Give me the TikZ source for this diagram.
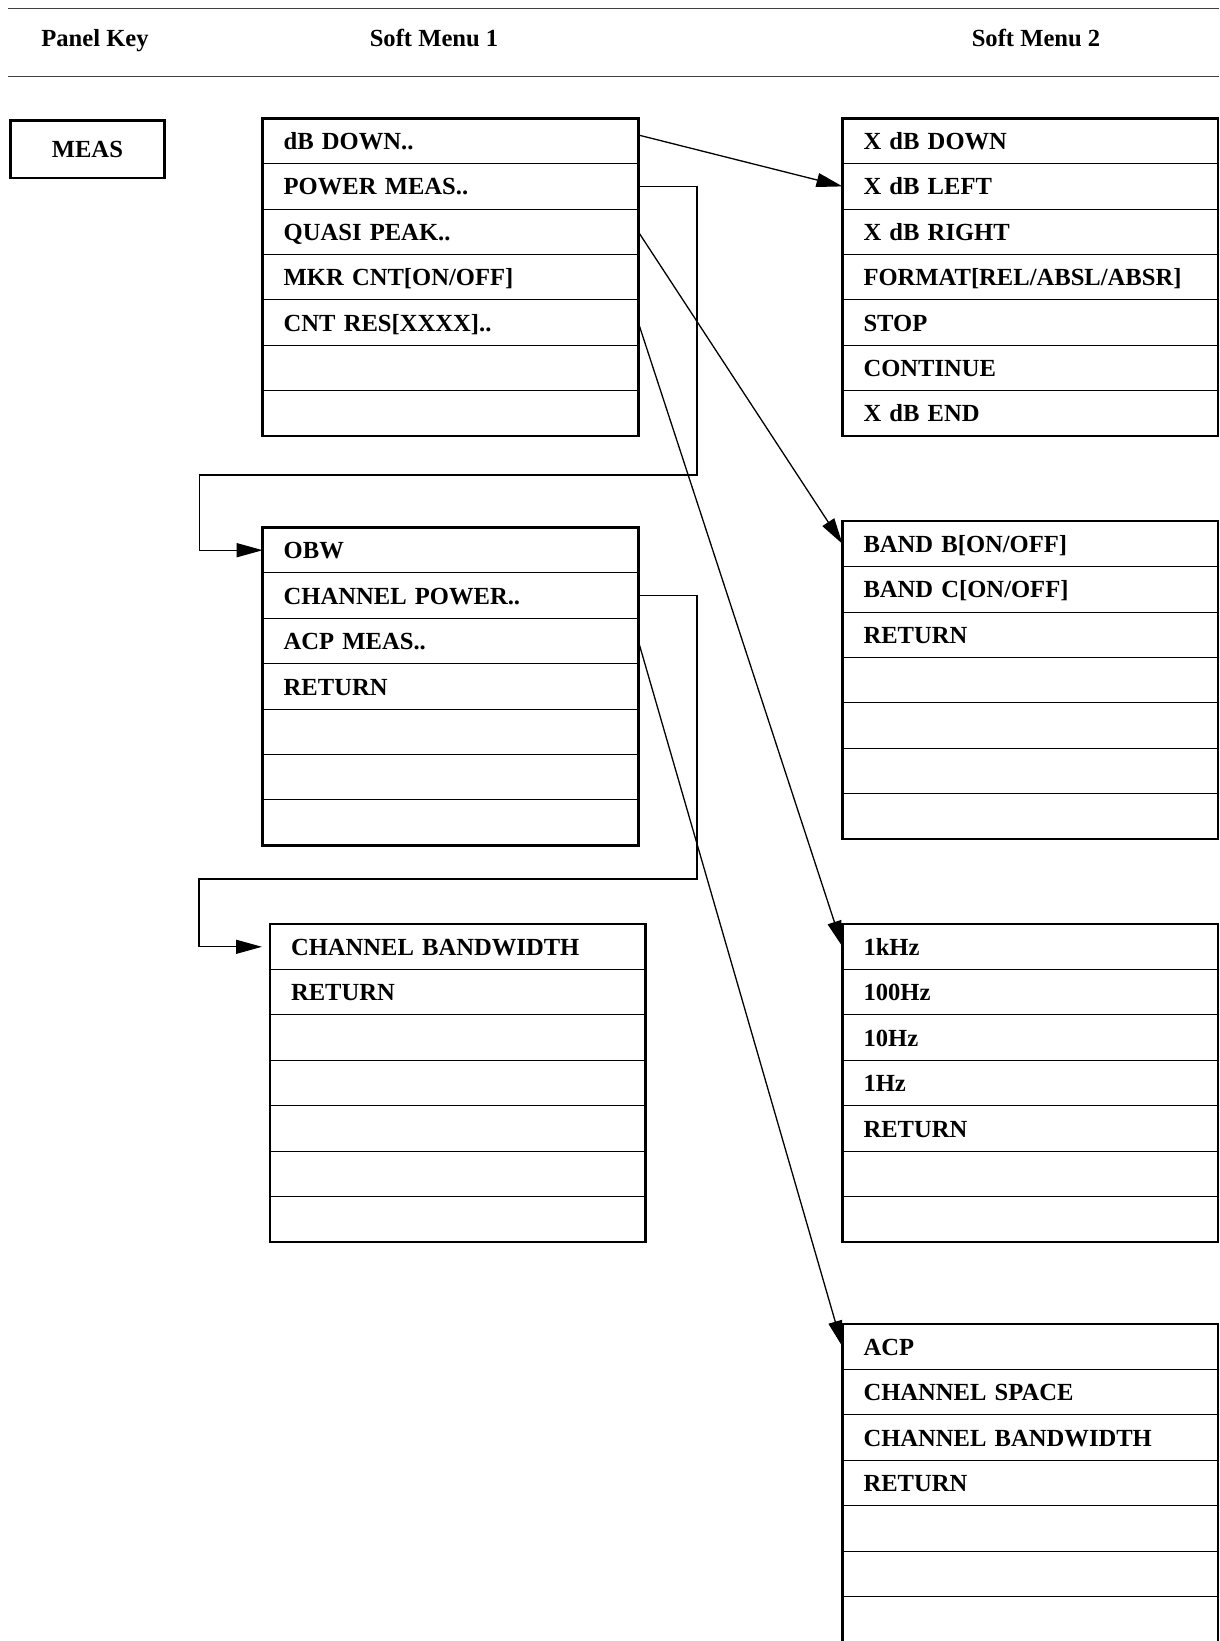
\documentclass[tikz,border=0pt]{standalone}
\usepackage{fontspec}
\setmainfont{Liberation Serif}
\usetikzlibrary{arrows.meta,positioning}

\begin{document}
\begin{tikzpicture}[x=0.5pt, y=-0.5pt, >={Triangle[length=13pt,width=7pt]}]
\tikzstyle{every node}=[font=\fontsize{12.3}{14}\selectfont\bfseries];
\tikzstyle{row}=[draw, line width=0.5pt, outer sep=0pt, minimum height=22.7pt, text width=166.8pt, inner xsep=10.5pt, inner ysep=0pt, align=left, text height=8.6pt, text depth=0pt];
\tikzstyle{frame}=[draw, line width=1.25pt];
\tikzstyle{link}=[->, line width=0.65pt];
\useasboundingbox (0,0) rectangle (1219,1641);

% header
\draw[line width=0.5pt, black!75] (8.4,8.4) -- (1219,8.4);
\draw[line width=0.5pt, black!75] (8.4,76.4) -- (1219,76.4);
\path (95,47) node (hdkey)[anchor=base] {Panel Key}
(434,47) node (hdsoft1)[anchor=base] {Soft Menu 1}
(1036,47) node (hdsoft2)[anchor=base] {Soft Menu 2};

% panel key
\path (87.4,149.2) node (meas)[draw, line width=1.25pt, minimum width=76.9pt, minimum height=28.8pt] {MEAS};

% soft menu 1
\path (262.7,118.3) node (a1)[row, anchor=north west] {dB DOWN..};
\node (a2)[row, below=0pt of a1] {POWER MEAS..};
\node (a3)[row, below=0pt of a2] {QUASI PEAK..};
\node (a4)[row, below=0pt of a3] {MKR CNT[ON/OFF]};
\node (a5)[row, below=0pt of a4] {CNT RES[XXXX]..};
\node (a6)[row, below=0pt of a5] {};
\node (a7)[row, below=0pt of a6] {};
\draw[frame] (a1.north west) rectangle (a7.south east);

\path (262.7,527.5) node (c1)[row, anchor=north west] {OBW};
\node (c2)[row, below=0pt of c1] {CHANNEL POWER..};
\node (c3)[row, below=0pt of c2] {ACP MEAS..};
\node (c4)[row, below=0pt of c3] {RETURN};
\node (c5)[row, below=0pt of c4] {};
\node (c6)[row, below=0pt of c5] {};
\node (c7)[row, below=0pt of c6] {};
\draw[frame] (c1.north west) rectangle (c7.south east);

\path (270,924.1) node (d1)[row, anchor=north west] {CHANNEL BANDWIDTH};
\node (d2)[row, below=0pt of d1] {RETURN};
\node (d3)[row, below=0pt of d2] {};
\node (d4)[row, below=0pt of d3] {};
\node (d5)[row, below=0pt of d4] {};
\node (d6)[row, below=0pt of d5] {};
\node (d7)[row, below=0pt of d6] {};
\draw[frame] (d1.north west) rectangle (d7.south east);

% soft menu 2
\path (842.5,118.3) node (b1)[row, anchor=north west] {X dB DOWN};
\node (b2)[row, below=0pt of b1] {X dB LEFT};
\node (b3)[row, below=0pt of b2] {X dB RIGHT};
\node (b4)[row, below=0pt of b3] {FORMAT[REL/ABSL/ABSR]};
\node (b5)[row, below=0pt of b4] {STOP};
\node (b6)[row, below=0pt of b5] {CONTINUE};
\node (b7)[row, below=0pt of b6] {X dB END};
\draw[frame] (b1.north west) rectangle (b7.south east);

\path (842.5,521.2) node (e1)[row, anchor=north west] {BAND B[ON/OFF]};
\node (e2)[row, below=0pt of e1] {BAND C[ON/OFF]};
\node (e3)[row, below=0pt of e2] {RETURN};
\node (e4)[row, below=0pt of e3] {};
\node (e5)[row, below=0pt of e4] {};
\node (e6)[row, below=0pt of e5] {};
\node (e7)[row, below=0pt of e6] {};
\draw[frame] (e1.north west) rectangle (e7.south east);

\path (842.5,924.1) node (f1)[row, anchor=north west] {1kHz};
\node (f2)[row, below=0pt of f1] {100Hz};
\node (f3)[row, below=0pt of f2] {10Hz};
\node (f4)[row, below=0pt of f3] {1Hz};
\node (f5)[row, below=0pt of f4] {RETURN};
\node (f6)[row, below=0pt of f5] {};
\node (f7)[row, below=0pt of f6] {};
\draw[frame] (f1.north west) rectangle (f7.south east);

\path (842.5,1324) node (g1)[row, anchor=north west] {ACP};
\node (g2)[row, below=0pt of g1] {CHANNEL SPACE};
\node (g3)[row, below=0pt of g2] {CHANNEL BANDWIDTH};
\node (g4)[row, below=0pt of g3] {RETURN};
\node (g5)[row, below=0pt of g4] {};
\node (g6)[row, below=0pt of g5] {};
\node (g7)[row, below=0pt of g6] {};
\draw[frame] (g1.north west) rectangle (g7.south east);

% links
\draw[link] ([yshift=3pt]a1.east) -- (b2.west);
\draw[link] (a2.east) -| (697,475) -| ([xshift=-31.75pt]c1.west) -- (c1.west);
\draw[link] (a3.east) -- (e1.west);
\draw[link] (a5.east) -- (f1.west);
\draw[link, shorten >=4pt] (c2.east) -| (697,879) -| ([xshift=-35.5pt]d1.west) -- (d1.west);
\draw[link] (c3.east) -- (g1.west);
\end{tikzpicture}
\end{document}
